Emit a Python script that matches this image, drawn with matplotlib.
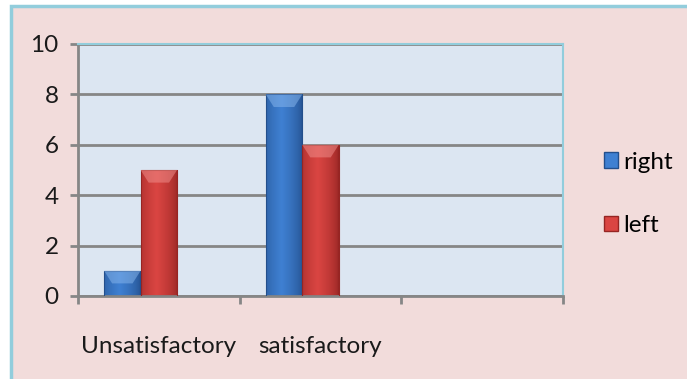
import numpy as np
import matplotlib.pyplot as plt
from matplotlib.patches import Rectangle, Polygon
from matplotlib.colors import to_rgb

categories = ['Unsatisfactory', 'satisfactory', '']
right_vals = [1, 8, 0]
left_vals = [5, 6, 0]
series_names = ['right', 'left']

plt.rcParams['font.family'] = ['Lato', 'DejaVu Sans']

fig = plt.figure(figsize=(6.87, 3.79), dpi=100, facecolor='white')
# chart area background with its thin blue border
fig.patches.append(Rectangle((11 / 687, -0.1), 1.2, 1 - 6 / 379 + 0.1, transform=fig.transFigure,
                             facecolor='#f2dcdb', edgecolor='#92cddc', linewidth=2.5, zorder=-1))

ax = fig.add_axes([78 / 687, 1 - 296 / 379, (563 - 78) / 687, (296 - 44) / 379])
ax.set_facecolor('#dce6f2')

w = 0.2257
x = np.arange(len(categories))
palettes = [('#234f8c', '#3f80d2', '#8ab8ee'), ('#962523', '#da4542', '#f29390')]


def shaded_bar(xc, h, edge, mid, top):
    if h <= 0:
        return
    x0, x1 = xc - w / 2, xc + w / 2
    e, m = np.array(to_rgb(edge)), np.array(to_rgb(mid))
    t = np.linspace(0, 1, 64)
    k = np.clip(1 - np.abs(t - 0.42) / 0.58, 0, 1) ** 0.6
    row = e[None, :] * (1 - k[:, None]) + m[None, :] * k[:, None]
    img = np.repeat(row[None, :, :], 2, axis=0)
    rect = Rectangle((x0, 0), w, h, facecolor='none', edgecolor=edge, linewidth=0.8, zorder=3)
    ax.add_patch(rect)
    im = ax.imshow(img, extent=(x0, x1, 0, h), aspect='auto', zorder=2, interpolation='bilinear')
    im.set_clip_path(rect)
    b = min(0.5, h * 0.6)
    d = w * 0.22
    ax.add_patch(Polygon([(x0, h), (x1, h), (x1 - d, h - b), (x0 + d, h - b)],
                         closed=True, facecolor=top, alpha=0.5, edgecolor='none', zorder=3))


for xc, h in zip(x - w, right_vals):
    shaded_bar(xc, h, *palettes[0])
for xc, h in zip(x, left_vals):
    shaded_bar(xc, h, *palettes[1])

ax.set_xlim(-0.5, len(categories) - 0.5)
ax.set_ylim(0, 10)
ax.set_yticks(range(0, 11, 2))
ax.set_xticks(x)
ax.set_xticklabels(categories)
ax.set_xticks(np.arange(-0.5, len(categories), 1), minor=True)
ax.yaxis.grid(True, color='#868686', linewidth=2)
ax.set_axisbelow(True)

for side in ['left', 'bottom']:
    ax.spines[side].set_color('#868686')
    ax.spines[side].set_linewidth(2)
for side in ['top', 'right']:
    ax.spines[side].set_color('#92cddc')
    ax.spines[side].set_linewidth(1.5)

ax.tick_params(axis='y', length=6, width=2, color='#868686', labelsize=17.5, pad=8, labelcolor='#1a1a1a')
ax.tick_params(axis='x', which='major', length=0, labelsize=17.5, pad=29, labelcolor='#1a1a1a')
ax.tick_params(axis='x', which='minor', length=6, width=2, color='#868686')

handles = [Rectangle((0, 0), 1, 1, facecolor=p[1], edgecolor=p[0]) for p in palettes]
fig.legend(handles, series_names, loc='center left', bbox_to_anchor=(582 / 687, 1 - 194 / 379),
           frameon=False, fontsize=17.5, handlelength=0.6, handleheight=0.6, handletextpad=0.2,
           labelspacing=1.75)

fig.savefig('out.png', dpi=100, facecolor=fig.get_facecolor())
